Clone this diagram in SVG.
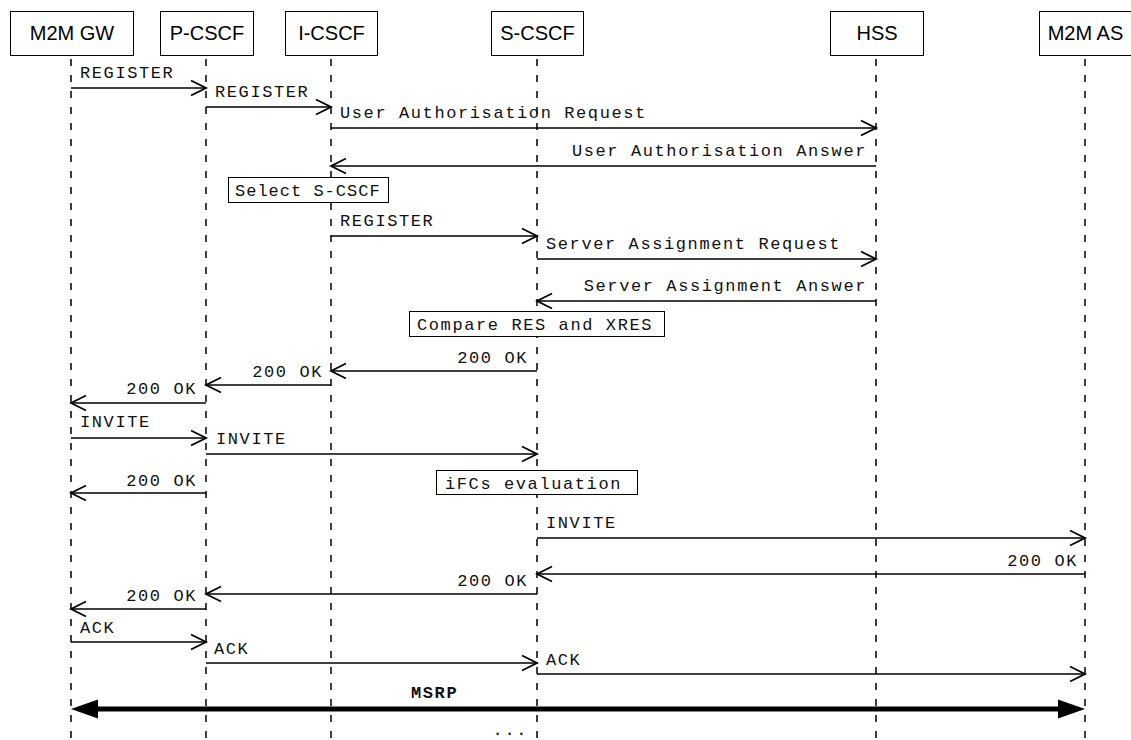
<svg xmlns="http://www.w3.org/2000/svg" width="1131" height="740" viewBox="0 0 1131 740">
<style>
.box{fill:#fff;stroke:#000;stroke-width:1}
.hd{font-family:"Liberation Sans",Arial,sans-serif;font-size:20px;fill:#000;text-anchor:middle}
.life{stroke:#000;stroke-width:1.5;stroke-dasharray:7 9;fill:none}
.msg{stroke:#000;stroke-width:1.5;fill:none;marker-end:url(#open)}
.lbl{font-family:"Liberation Mono","Courier New",monospace;font-size:17px;letter-spacing:1.6px;fill:#111}
.r{text-anchor:end}
.note{fill:#fff;stroke:#000;stroke-width:1}
</style>
<defs>
<marker id="open" markerUnits="userSpaceOnUse" markerWidth="20" markerHeight="20" refX="0" refY="0" viewBox="-14 -8 16 16" orient="auto">
<path d="M-12,-6 L0,0 L-12,6" fill="none" stroke="#000" stroke-width="1.5"/>
</marker>
<marker id="solid" markerUnits="userSpaceOnUse" markerWidth="30" markerHeight="24" refX="-9" refY="0" viewBox="-28 -12 30 24" orient="auto-start-reverse">
<path d="M-27,-9.5 L0,0 L-27,9.5 Z" fill="#000"/>
</marker>
</defs>
<rect width="1131" height="740" fill="#fff"/>
<g id="lifelines">
<line class="life" x1="71" y1="59" x2="71" y2="740"/>
<line class="life" x1="206" y1="59" x2="206" y2="740"/>
<line class="life" x1="331" y1="59" x2="331" y2="740"/>
<line class="life" x1="537" y1="59" x2="537" y2="740"/>
<line class="life" x1="876" y1="59" x2="876" y2="740"/>
<line class="life" x1="1085" y1="59" x2="1085" y2="740"/>
</g>
<g id="node-m2mgw"><rect class="box" x="10.5" y="11.5" width="123" height="44"/><text class="hd" x="72" y="40">M2M GW</text></g>
<g id="node-pcscf"><rect class="box" x="160.5" y="11.5" width="93" height="44"/><text class="hd" x="207" y="40">P-CSCF</text></g>
<g id="node-icscf"><rect class="box" x="285.5" y="11.5" width="92" height="44"/><text class="hd" x="331.5" y="40">I-CSCF</text></g>
<g id="node-scscf"><rect class="box" x="491.5" y="11.5" width="92" height="44"/><text class="hd" x="537.5" y="40">S-CSCF</text></g>
<g id="node-hss"><rect class="box" x="830.5" y="11.5" width="93" height="44"/><text class="hd" x="877" y="40">HSS</text></g>
<g id="node-m2mas"><rect class="box" x="1039.5" y="11.5" width="92" height="44"/><text class="hd" x="1085.5" y="40">M2M AS</text></g>
<g id="connectors">
<line class="msg" x1="71" y1="88" x2="206" y2="88"/>
<line class="msg" x1="206" y1="107" x2="331" y2="107"/>
<line class="msg" x1="331" y1="128" x2="876" y2="128"/>
<line class="msg" x1="876" y1="166" x2="331" y2="166"/>
<line class="msg" x1="331" y1="236" x2="537" y2="236"/>
<line class="msg" x1="537" y1="259" x2="876" y2="259"/>
<line class="msg" x1="876" y1="301" x2="537" y2="301"/>
<line class="msg" x1="537" y1="371" x2="331" y2="371"/>
<line class="msg" x1="331" y1="385" x2="206" y2="385"/>
<line class="msg" x1="206" y1="403" x2="71" y2="403"/>
<line class="msg" x1="71" y1="438" x2="206" y2="438"/>
<line class="msg" x1="206" y1="454" x2="537" y2="454"/>
<line class="msg" x1="206" y1="493" x2="71" y2="493"/>
<line class="msg" x1="537" y1="538" x2="1085" y2="538"/>
<line class="msg" x1="1085" y1="574" x2="537" y2="574"/>
<line class="msg" x1="537" y1="594" x2="206" y2="594"/>
<line class="msg" x1="206" y1="609" x2="71" y2="609"/>
<line class="msg" x1="71" y1="642" x2="206" y2="642"/>
<line class="msg" x1="206" y1="663" x2="537" y2="663"/>
<line class="msg" x1="537" y1="674" x2="1085" y2="674"/>
<line x1="80" y1="709" x2="1076" y2="709" stroke="#000" stroke-width="5" marker-start="url(#solid)" marker-end="url(#solid)"/>
</g>
<g id="labels">
<text class="lbl" x="80" y="78">REGISTER</text>
<text class="lbl" x="215" y="97">REGISTER</text>
<text class="lbl" x="340" y="118">User Authorisation Request</text>
<text class="lbl r" x="867" y="156">User Authorisation Answer</text>
<text class="lbl" x="340" y="226">REGISTER</text>
<text class="lbl" x="546" y="249">Server Assignment Request</text>
<text class="lbl r" x="867" y="291">Server Assignment Answer</text>
<text class="lbl r" x="528" y="363">200 OK</text>
<text class="lbl r" x="323" y="377">200 OK</text>
<text class="lbl r" x="197" y="394">200 OK</text>
<text class="lbl" x="80" y="427">INVITE</text>
<text class="lbl" x="216" y="444">INVITE</text>
<text class="lbl r" x="197" y="486">200 OK</text>
<text class="lbl" x="546" y="528">INVITE</text>
<text class="lbl r" x="1078" y="566">200 OK</text>
<text class="lbl r" x="528" y="586">200 OK</text>
<text class="lbl r" x="197" y="601">200 OK</text>
<text class="lbl" x="80" y="633">ACK</text>
<text class="lbl" x="214" y="654">ACK</text>
<text class="lbl" x="546" y="665">ACK</text>
<text class="lbl" x="411" y="698" font-weight="bold">MSRP</text>
<text class="lbl r" x="528" y="735">...</text>
</g>
<g id="note-select"><rect class="note" x="228.5" y="177.5" width="160" height="25"/><text class="lbl" x="235" y="196" style="letter-spacing:1px">Select S-CSCF</text></g>
<g id="note-compare"><rect class="note" x="409.5" y="311.5" width="255" height="25"/><text class="lbl" x="417" y="330">Compare RES and XRES</text></g>
<g id="note-ifcs"><rect class="note" x="436.5" y="470.5" width="201" height="24"/><text class="lbl" x="445" y="489">iFCs evaluation</text></g>
</svg>
